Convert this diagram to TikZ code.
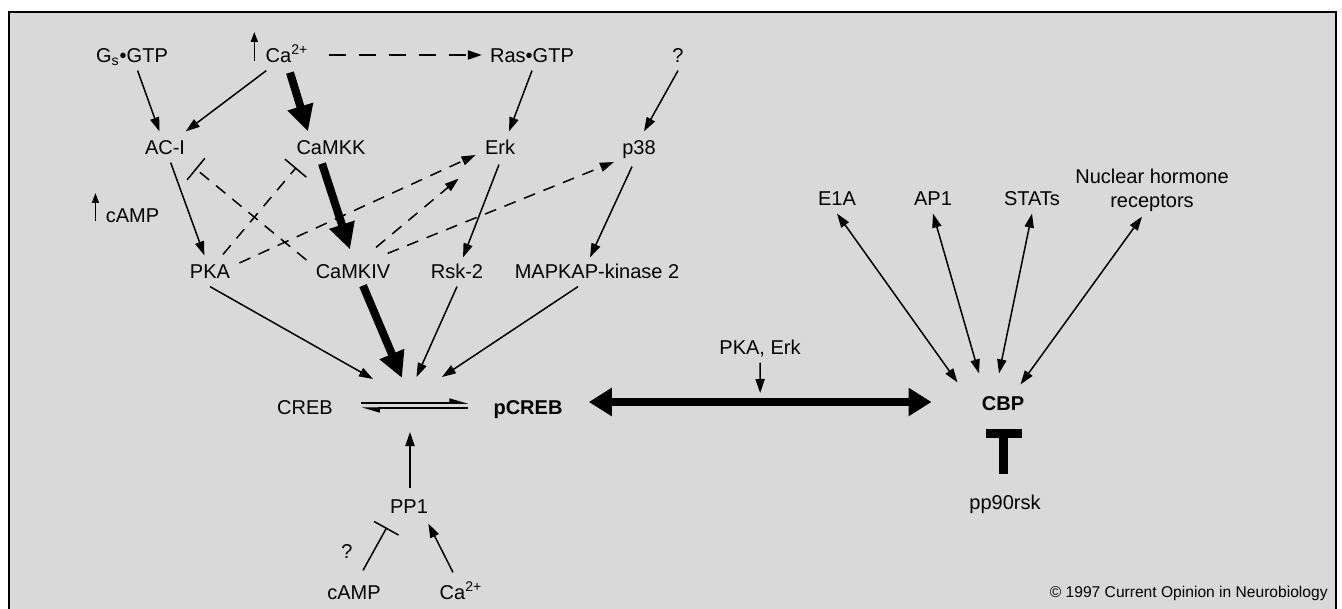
\documentclass[tikz,border=0pt]{standalone}
\usepackage{fontspec}
\setmainfont{Liberation Sans}
\usetikzlibrary{arrows.meta,calc}
\definecolor{bg}{HTML}{D9D9D9}
\begin{document}
\begin{tikzpicture}[x=0.5pt,y=-0.5pt,
  lbl/.style={font=\fontsize{10}{12}\selectfont, text height=7.2pt, text depth=0pt, inner sep=4pt},
  blbl/.style={lbl, font=\fontsize{10}{12}\selectfont\bfseries},
  thin/.style={line width=0.75pt, -{Triangle[length=7pt,width=4.6pt]}},
  upar/.style={line width=0.75pt, -{Triangle[length=5pt,width=3.5pt]}},
  thickar/.style={line width=4pt, -{Triangle[length=13pt,width=12.5pt]}},
  dsh/.style={dash pattern=on 6pt off 4.5pt},
  dshlong/.style={dash pattern=on 8.5pt off 6.5pt},
  inh/.style={line width=0.75pt, -{Bar[width=14pt]}},
  dbl/.style={line width=0.75pt, {Triangle[length=7pt,width=4.6pt]}-{Triangle[length=7pt,width=4.6pt]}},
  dblthick/.style={line width=4pt, {Triangle[length=11.5pt,width=13.5pt]}-{Triangle[length=11.5pt,width=13.5pt]}},
  hpr/.style={line width=0.75pt, -{Triangle[length=8pt,width=4.5pt,left]}}
]
\fill[white] (0,0) rectangle (1342,609);
\clip (0,0) rectangle (1342,609);
\draw[line width=1pt, fill=bg] (9,12) rectangle (1336,640);

% nodes
\node[lbl] (gs) at (132,55) {G\textsubscript{s}\textbullet GTP};
\node[lbl] (ca) at (287,55) {Ca\textsuperscript{2+}};
\node[lbl] (ras) at (532,55) {Ras\textbullet GTP};
\node[lbl] (q1) at (678,55) {?};
\node[lbl] (aci) at (165,147) {AC-I};
\node[lbl] (camkk) at (331,147) {CaMKK};
\node[lbl] (erk) at (500,147) {Erk};
\node[lbl] (p38) at (639,147) {p38};
\node[lbl] (camp1) at (132.5,215) {cAMP};
\node[lbl] (pka) at (210,271) {PKA};
\node[lbl] (camkiv) at (353,271) {CaMKIV};
\node[lbl] (rsk) at (457,271) {Rsk-2};
\node[lbl] (mapkap) at (597,271) {MAPKAP-kinase 2};
\node[lbl] (creb) at (305,407) {CREB};
\node[blbl] (pcreb) at (528,407) {pCREB};
\node[lbl] (pp1) at (409,506) {PP1};
\node[lbl] (q2) at (347,551) {?};
\node[lbl] (camp2) at (354,592) {cAMP};
\node[lbl] (ca2) at (461,592) {Ca\textsuperscript{2+}};
\node[lbl] (pkaerk) at (760,347) {PKA, Erk};
\node[blbl] (cbp) at (1003,403) {CBP};
\node[lbl] (pp90) at (1005,502) {pp90rsk};
\node[lbl] (e1a) at (837,198) {E1A};
\node[lbl] (ap1) at (933,198) {AP1};
\node[lbl] (stats) at (1032,198) {STATs};
\node[lbl] (nhr1) at (1152,176) {Nuclear hormone};
\node[lbl] (nhr2) at (1152,200) {receptors};
\node[font=\fontsize{7.8}{9}\selectfont, inner sep=0pt, anchor=east] (copy) at (1328,593) {\textcopyright{} 1997 Current Opinion in Neurobiology};

\coordinate (eqc) at ($(creb)!0.5!(pcreb)$);

% increase arrows
\draw[upar] ($(ca.west)+(-3,6)$) -- ++(0,-29);
\draw[upar] ($(camp1.west)+(-2,6)$) -- ++(0,-28);

% solid thin arrows
\draw[thin] (gs) -- (aci);
\draw[thin] (ca) -- (aci);
\draw[thin] (aci) -- (pka);
\draw[thin] (ras.south) -- ($(erk.north)+(9,0)$);
\draw[thin] (q1.south) -- ($(p38.north)+(5,0)$);
\draw[thin] ($(erk.south)+(-1,2)$) -- ($(rsk.north)+(6,2)$);
\draw[thin] ($(p38.south)+(-7,4)$) -- ($(mapkap.north)+(-7,2)$);
\draw[thin] (pka.south) -- ($(eqc)+(-43.5,-28)$);
\draw[thin] (rsk.south) -- ($(eqc)+(0,-30)$);
\draw[thin] ($(mapkap.south)+(-19,0)$) -- ($(eqc)+(25.5,-30)$);

% thick arrows
\draw[thickar] ($(ca.south)+(3,2)$) -- ($(camkk.north)+(-23,0)$);
\draw[thickar] ($(camkk.south)+(-9,1)$) -- ($(camkiv.north)+(-3,-6)$);
\draw[thickar] ($(camkiv.south)+(10,-1)$) -- ($(eqc)+(-14.5,-29)$);

% dashed
\draw[thin,dshlong,shorten <=6pt] (ca.east) -- (ras.west);
\draw[thin,dsh] ($(pka.east)+(1,-8)$) -- ($(erk.west)+(-1,8)$);
\draw[thin,dsh] ($(camkiv.north)+(23,-8)$) -- ($(erk.south west)+(-18,16)$);
\draw[thin,dsh] ($(camkiv.north east)+(-11,-2)$) -- ($(p38.west)+(0,15)$);
\draw[inh,dsh] ($(pka.north)+(13,-1)$) -- ($(camkk.south west)+(8,5)$);
\draw[inh,dsh] ($(camkiv.west)+(-1,-11)$) -- ($(aci.south east)+(2,6)$);

% CREB <-> pCREB
\draw[hpr] ($(creb.east)+(20,-4)$) -- ($(pcreb.west)+(-17,-4)$);
\draw[hpr] ($(pcreb.west)+(-17,1)$) -- ($(creb.east)+(20,1)$);

% PP1
\draw[thin] ($(pp1.north)+(1,-2)$) -- ($(eqc)+(-6.5,25)$);
\draw[inh] ($(camp2.north)+(9,-6)$) -- ($(pp1.south west)+(5,6)$);
\draw[thin] ($(ca2.north)+(-8,-4)$) -- ($(pp1.south east)+(-8,2)$);

% pCREB <-> CBP
\path ($(pcreb.east)+(18,-5)$) coordinate (dl) ($(cbp.west)+(-42,-1)$) coordinate (dr);
\draw[dblthick] (dl) -- (dr);
\coordinate (dm) at ($(dl)!0.5!(dr)$);
\draw[thin] (pkaerk.south) -- ($(dm)+(0,-9)$);

% CBP partners
\draw[dbl] (e1a.south) -- ($(cbp.north west)+(-16,-5)$);
\draw[dbl] (ap1.south) -- ($(cbp.north)+(-24,-14)$);
\draw[dbl] (stats.south) -- ($(cbp.north)+(-4,-14)$);
\draw[dbl] ($(nhr2.south)+(-10,1)$) -- ($(cbp.north east)+(-12,-3)$);

% pp90rsk inhibits CBP
\draw[line width=4.5pt, -{Bar[width=18pt]}] ($(pp90.north)+(-1.5,-12)$) -- ($(cbp.south)+(0.5,10)$);
\end{tikzpicture}
\end{document}
